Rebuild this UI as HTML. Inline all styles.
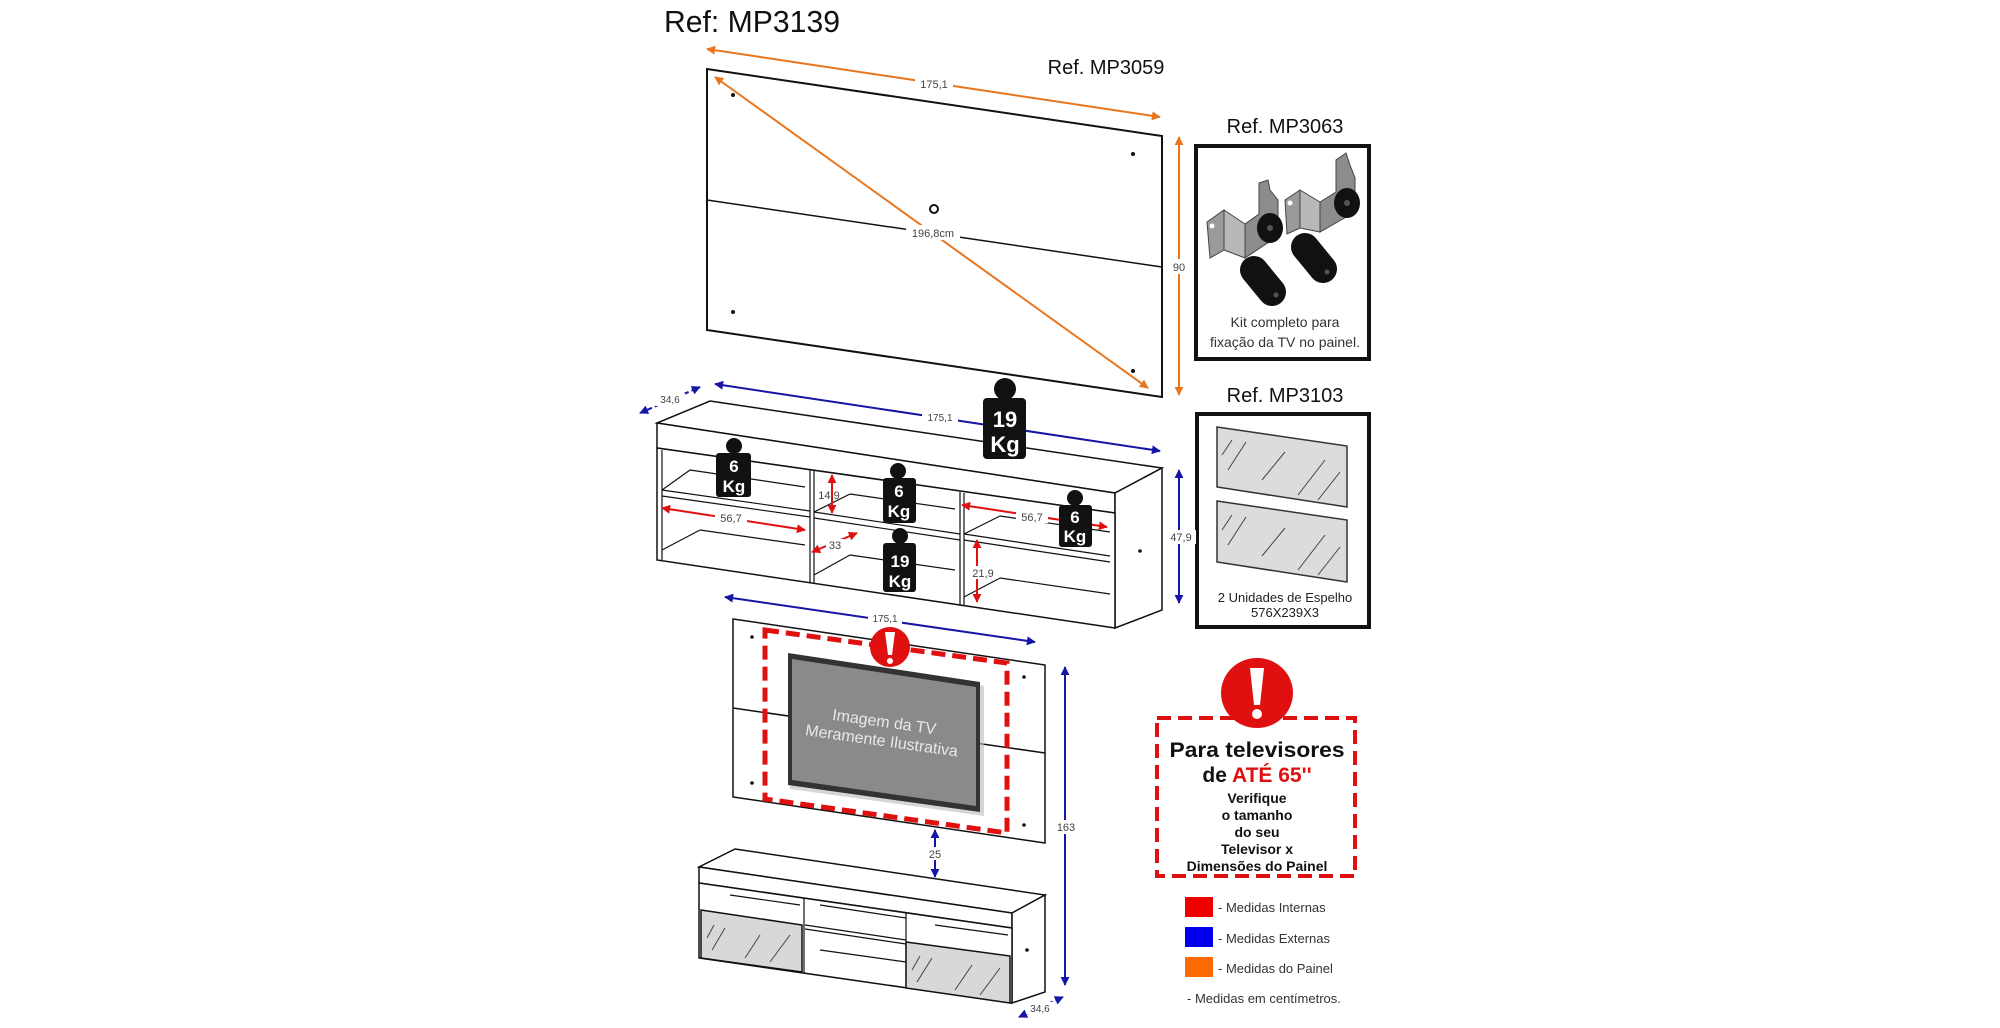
<!DOCTYPE html>
<html><head><meta charset="utf-8"><style>
html,body{margin:0;padding:0;background:#fff;}
svg{display:block;}
text{font-family:"Liberation Sans",Arial,sans-serif;}
</style></head><body>
<svg width="2000" height="1028" viewBox="0 0 2000 1028" xmlns="http://www.w3.org/2000/svg">
<defs>
<marker id="ao" viewBox="0 0 10 10" refX="9" refY="5" markerWidth="9" markerHeight="9" orient="auto-start-reverse" markerUnits="userSpaceOnUse"><path d="M0,0L10,5L0,10z" fill="#e8761e"/></marker>
<marker id="ab" viewBox="0 0 10 10" refX="9" refY="5" markerWidth="9" markerHeight="9" orient="auto-start-reverse" markerUnits="userSpaceOnUse"><path d="M0,0L10,5L0,10z" fill="#1515a8"/></marker>
<marker id="ar" viewBox="0 0 10 10" refX="9" refY="5" markerWidth="9" markerHeight="9" orient="auto-start-reverse" markerUnits="userSpaceOnUse"><path d="M0,0L10,5L0,10z" fill="#e01010"/></marker>
</defs>

<text x="664" y="32" font-size="31" fill="#111" textLength="176" lengthAdjust="spacingAndGlyphs">Ref: MP3139</text>

<!-- Panel MP3059 -->
<polygon points="707,69 1162,136 1162,397 707,330" fill="#fff" stroke="#111" stroke-width="2"/>
<line x1="707" y1="200" x2="1162" y2="267" stroke="#111" stroke-width="1.5"/>
<circle cx="733" cy="95" r="2" fill="#111"/><circle cx="1133" cy="154" r="2" fill="#111"/>
<circle cx="733" cy="312" r="2" fill="#111"/><circle cx="1133" cy="371" r="2" fill="#111"/>
<circle cx="934" cy="209" r="4" fill="none" stroke="#111" stroke-width="2"/>
<line x1="707" y1="49" x2="1160" y2="117" stroke="#e8761e" stroke-width="2" marker-start="url(#ao)" marker-end="url(#ao)"/>
<rect x="915" y="77" width="38" height="14" fill="#fff"/><text x="934" y="88" font-size="11" fill="#444" text-anchor="middle">175,1</text>
<line x1="715" y1="77" x2="1148" y2="388" stroke="#e8761e" stroke-width="2" marker-start="url(#ao)" marker-end="url(#ao)"/>
<rect x="906" y="225" width="54" height="15" fill="#fff"/><text x="933" y="237" font-size="11" fill="#444" text-anchor="middle">196,8cm</text>
<line x1="1179" y1="137" x2="1179" y2="395" stroke="#e8761e" stroke-width="2" marker-start="url(#ao)" marker-end="url(#ao)"/>
<rect x="1170" y="259" width="18" height="15" fill="#fff"/><text x="1179" y="271" font-size="11" fill="#444" text-anchor="middle">90</text>
<text x="1106" y="74" font-size="20" fill="#111" text-anchor="middle">Ref. MP3059</text>

<!-- Kit box -->
<text x="1285" y="133" font-size="20" fill="#111" text-anchor="middle">Ref. MP3063</text>
<rect x="1196" y="146" width="173" height="213" fill="#fff" stroke="#111" stroke-width="4"/>
<g stroke="#444" stroke-width="1">
<polygon points="1207,222 1224,210 1224,250 1210,258" fill="#9a9a9a"/>
<polygon points="1224,210 1245,224 1245,258 1224,250" fill="#b8b8b8"/>
<polygon points="1245,224 1259,214 1259,183 1268,180 1270,190 1278,200 1278,236 1245,258" fill="#8c8c8c"/>
<polygon points="1285,200 1300,190 1300,228 1287,234" fill="#9a9a9a"/>
<polygon points="1300,190 1320,202 1320,232 1300,228" fill="#b8b8b8"/>
<polygon points="1320,202 1336,192 1336,160 1346,153 1350,165 1355,178 1355,212 1320,232" fill="#8c8c8c"/>
</g>
<circle cx="1212" cy="226" r="2.5" fill="#fff"/><circle cx="1290" cy="203" r="2.5" fill="#fff"/>
<ellipse cx="1270" cy="228" rx="13" ry="15" fill="#111"/><ellipse cx="1347" cy="203" rx="13" ry="15" fill="#111"/>
<circle cx="1270" cy="228" r="3" fill="#555"/><circle cx="1347" cy="203" r="3" fill="#555"/>
<line x1="1254" y1="270" x2="1272" y2="292" stroke="#111" stroke-width="28" stroke-linecap="round"/>
<line x1="1305" y1="247" x2="1323" y2="269" stroke="#111" stroke-width="28" stroke-linecap="round"/>
<circle cx="1276" cy="295" r="2.5" fill="#555"/><circle cx="1327" cy="272" r="2.5" fill="#555"/>
<text x="1285" y="327" font-size="14" fill="#333" text-anchor="middle">Kit completo para</text>
<text x="1285" y="347" font-size="14" fill="#333" text-anchor="middle">fixação da TV no painel.</text>

<!-- Mirror box -->
<text x="1285" y="402" font-size="20" fill="#111" text-anchor="middle">Ref. MP3103</text>
<rect x="1197" y="414" width="172" height="213" fill="#fff" stroke="#111" stroke-width="4"/>
<polygon points="1217,427 1347,446 1347,507 1217,487" fill="#dcdcdc" stroke="#333" stroke-width="1.5"/>
<polygon points="1217,501 1347,520 1347,582 1217,562" fill="#dcdcdc" stroke="#333" stroke-width="1.5"/>
<g stroke="#444" stroke-width="1"><line x1="1222" y1="455" x2="1232" y2="440"/><line x1="1228" y1="470" x2="1246" y2="442"/><line x1="1262" y1="480" x2="1285" y2="452"/><line x1="1298" y1="495" x2="1325" y2="460"/><line x1="1318" y1="500" x2="1340" y2="472"/>
<line x1="1222" y1="530" x2="1232" y2="515"/><line x1="1228" y1="545" x2="1246" y2="517"/><line x1="1262" y1="556" x2="1285" y2="528"/><line x1="1298" y1="570" x2="1325" y2="535"/><line x1="1318" y1="575" x2="1340" y2="547"/></g>
<text x="1285" y="602" font-size="13" fill="#222" text-anchor="middle">2 Unidades de Espelho</text>
<text x="1285" y="617" font-size="13" fill="#222" text-anchor="middle">576X239X3</text>

<!-- Cabinet 1 -->
<g stroke="#111" stroke-width="1.5" fill="#fff">
<polygon points="710,401 1162,468 1115,493 657,423"/>
<polygon points="657,423 1115,493 1115,513 657,448"/>
<polygon points="1115,493 1162,468 1162,610 1115,628"/>
<polygon points="657,448 1115,513 1115,628 657,560"/>
</g>
<g stroke="#111" stroke-width="1.2" fill="none">
<line x1="662" y1="490" x2="810" y2="511"/><line x1="662" y1="496" x2="810" y2="517"/>
<line x1="814" y1="512" x2="960" y2="534"/><line x1="814" y1="518" x2="960" y2="540"/>
<line x1="964" y1="534" x2="1110" y2="556"/><line x1="964" y1="540" x2="1110" y2="562"/>
<line x1="810" y1="470" x2="810" y2="583"/><line x1="814" y1="471" x2="814" y2="584"/>
<line x1="960" y1="492" x2="960" y2="605"/><line x1="964" y1="493" x2="964" y2="606"/>
<line x1="662" y1="450" x2="662" y2="560"/>
<line x1="690" y1="470" x2="805" y2="487"/><line x1="662" y1="490" x2="690" y2="470"/>
<line x1="700" y1="530" x2="805" y2="545"/><line x1="662" y1="550" x2="700" y2="530"/>
<line x1="850" y1="494" x2="955" y2="509"/><line x1="814" y1="512" x2="850" y2="494"/>
<line x1="850" y1="555" x2="955" y2="570"/><line x1="814" y1="575" x2="850" y2="555"/>
<line x1="1000" y1="516" x2="1110" y2="532"/><line x1="964" y1="534" x2="1000" y2="516"/>
<line x1="1000" y1="578" x2="1110" y2="594"/><line x1="964" y1="597" x2="1000" y2="578"/>
</g>
<circle cx="1140" cy="551" r="1.8" fill="#111"/>
<!-- cabinet1 dims -->
<line x1="640" y1="413" x2="700" y2="387" stroke="#1515a8" stroke-width="2" stroke-dasharray="5,3" marker-start="url(#ab)" marker-end="url(#ab)"/>
<rect x="655" y="393" width="30" height="13" fill="#fff"/><text x="670" y="403" font-size="10" fill="#444" text-anchor="middle">34,6</text>
<line x1="715" y1="384" x2="1160" y2="451" stroke="#1515a8" stroke-width="2" marker-start="url(#ab)" marker-end="url(#ab)"/>
<rect x="922" y="411" width="36" height="13" fill="#fff"/><text x="940" y="421" font-size="10" fill="#444" text-anchor="middle">175,1</text>
<line x1="1179" y1="470" x2="1179" y2="603" stroke="#1515a8" stroke-width="2" marker-start="url(#ab)" marker-end="url(#ab)"/>
<rect x="1166" y="530" width="30" height="14" fill="#fff"/><text x="1181" y="541" font-size="11" fill="#444" text-anchor="middle">47,9</text>
<line x1="725" y1="597" x2="1035" y2="642" stroke="#1515a8" stroke-width="2" marker-start="url(#ab)" marker-end="url(#ab)"/>
<rect x="868" y="612" width="34" height="12" fill="#fff"/><text x="885" y="622" font-size="10" fill="#444" text-anchor="middle">175,1</text>
<g stroke="#e01010" stroke-width="2">
<line x1="662" y1="508" x2="805" y2="530" marker-start="url(#ar)" marker-end="url(#ar)"/>
<line x1="832" y1="475" x2="832" y2="513" marker-start="url(#ar)" marker-end="url(#ar)"/>
<line x1="812" y1="552" x2="857" y2="533" marker-start="url(#ar)" marker-end="url(#ar)"/>
<line x1="962" y1="505" x2="1107" y2="527" marker-start="url(#ar)" marker-end="url(#ar)"/>
<line x1="977" y1="540" x2="977" y2="602" marker-start="url(#ar)" marker-end="url(#ar)"/>
</g>
<rect x="715" y="511" width="32" height="13" fill="#fff"/><text x="731" y="522" font-size="11" fill="#444" text-anchor="middle">56,7</text>
<text x="829" y="499" font-size="11" fill="#444" text-anchor="middle">14,9</text>
<rect x="826" y="539" width="18" height="13" fill="#fff"/><text x="835" y="549" font-size="11" fill="#444" text-anchor="middle">33</text>
<rect x="1016" y="510" width="32" height="13" fill="#fff"/><text x="1032" y="521" font-size="11" fill="#444" text-anchor="middle">56,7</text>
<rect x="968" y="566" width="30" height="13" fill="#fff"/><text x="983" y="577" font-size="11" fill="#444" text-anchor="middle">21,9</text>

<!-- Weights -->
<g fill="#111">
<circle cx="1005" cy="389" r="11"/><rect x="983" y="398" width="43" height="61" rx="4"/>
<circle cx="734" cy="446" r="8"/><rect x="716" y="453" width="35" height="44" rx="3"/>
<circle cx="898" cy="471" r="8"/><rect x="883" y="478" width="33" height="45" rx="3"/>
<circle cx="1075" cy="498" r="8"/><rect x="1059" y="505" width="33" height="42" rx="3"/>
<circle cx="900" cy="536" r="8"/><rect x="883" y="543" width="33" height="49" rx="3"/>
</g>
<g fill="#fff" font-weight="bold" text-anchor="middle">
<text x="1005" y="427" font-size="22">19</text><text x="1005" y="452" font-size="22">Kg</text>
<text x="734" y="472" font-size="17">6</text><text x="734" y="492" font-size="17">Kg</text>
<text x="899" y="497" font-size="17">6</text><text x="899" y="517" font-size="17">Kg</text>
<text x="1075" y="523" font-size="17">6</text><text x="1075" y="542" font-size="17">Kg</text>
<text x="900" y="567" font-size="17">19</text><text x="900" y="587" font-size="17">Kg</text>
</g>

<!-- Panel 2 -->
<polygon points="733,619 1045,665 1045,843 733,797" fill="#fff" stroke="#111" stroke-width="1.5"/>
<line x1="733" y1="708" x2="1045" y2="753" stroke="#111" stroke-width="1.5"/>
<circle cx="752" cy="637" r="1.8" fill="#111"/><circle cx="1024" cy="677" r="1.8" fill="#111"/><circle cx="752" cy="783" r="1.8" fill="#111"/><circle cx="1024" cy="825" r="1.8" fill="#111"/>
<polygon points="790,657 984,686 984,816 790,789" fill="#bbb" opacity="0.6"/>
<polygon points="788,653 980,682 980,812 788,785" fill="#333"/>
<polygon points="792,659 976,687 976,806 792,780" fill="#8a8a8a"/>
<g transform="rotate(8 883 731)" fill="#e8e8e8" font-size="16" text-anchor="middle"><text x="883" y="727">Imagem da TV</text><text x="883" y="746">Meramente Ilustrativa</text></g>
<polygon points="765,630 1007,663 1007,833 765,799" fill="none" stroke="#e01010" stroke-width="5" stroke-dasharray="14,7"/>
<circle cx="890" cy="647" r="20" fill="#e01010"/>
<polygon points="885,632 895,632 892,655 888,655" fill="#fff"/><circle cx="890" cy="661" r="3" fill="#fff"/>
<line x1="1065" y1="667" x2="1065" y2="985" stroke="#1515a8" stroke-width="2" marker-start="url(#ab)" marker-end="url(#ab)"/>
<rect x="1055" y="820" width="22" height="14" fill="#fff"/><text x="1066" y="831" font-size="11" fill="#444" text-anchor="middle">163</text>
<line x1="935" y1="830" x2="935" y2="877" stroke="#1515a8" stroke-width="2" marker-start="url(#ab)" marker-end="url(#ab)"/>
<rect x="927" y="847" width="16" height="13" fill="#fff"/><text x="935" y="858" font-size="11" fill="#444" text-anchor="middle">25</text>

<!-- Cabinet 2 -->
<g stroke="#111" stroke-width="1.5" fill="#fff">
<polygon points="735,849 1045,895 1012,913 699,867"/>
<polygon points="699,867 1012,913 1012,928 699,883"/>
<polygon points="1012,913 1045,895 1045,992 1012,1003"/>
<polygon points="699,883 1012,928 1012,1003 699,958"/>
</g>
<g stroke="#111" stroke-width="1.2" fill="none">
<line x1="804" y1="898" x2="804" y2="973"/><line x1="906" y1="913" x2="906" y2="988"/>
<line x1="805" y1="925" x2="906" y2="940"/><line x1="805" y1="929" x2="906" y2="944"/>
<line x1="820" y1="905" x2="906" y2="918"/><line x1="820" y1="950" x2="906" y2="962"/>
<line x1="730" y1="895" x2="800" y2="905"/><line x1="935" y1="925" x2="1008" y2="935"/>
</g>
<polygon points="701,910 802,925 802,972 701,958" fill="#d8d8d8" stroke="#111" stroke-width="1.5"/>
<polygon points="906,942 1010,956 1010,1003 906,988" fill="#d8d8d8" stroke="#111" stroke-width="1.5"/>
<g stroke="#444" stroke-width="1"><line x1="707" y1="938" x2="714" y2="925"/><line x1="712" y1="950" x2="725" y2="928"/><line x1="745" y1="958" x2="760" y2="935"/><line x1="770" y1="962" x2="790" y2="935"/>
<line x1="912" y1="970" x2="920" y2="956"/><line x1="917" y1="982" x2="932" y2="958"/><line x1="955" y1="990" x2="972" y2="965"/><line x1="980" y1="995" x2="1000" y2="968"/></g>
<circle cx="1027" cy="950" r="1.8" fill="#111"/>
<line x1="1019" y1="1017" x2="1063" y2="997" stroke="#1515a8" stroke-width="2" stroke-dasharray="5,3" marker-start="url(#ab)" marker-end="url(#ab)"/>
<rect x="1026" y="1002" width="28" height="12" fill="#fff"/><text x="1040" y="1012" font-size="10" fill="#444" text-anchor="middle">34,6</text>

<!-- Warning -->
<rect x="1157" y="718" width="198" height="158" fill="#fff" stroke="#e01010" stroke-width="4" stroke-dasharray="14,7"/>
<ellipse cx="1257" cy="693" rx="36" ry="35" fill="#e01010"/>
<polygon points="1250,668 1264,668 1260,705 1254,705" fill="#fff"/><circle cx="1257" cy="714" r="5" fill="#fff"/>
<text x="1257" y="757" font-size="21" font-weight="bold" fill="#111" text-anchor="middle" textLength="175" lengthAdjust="spacingAndGlyphs">Para televisores</text>
<text x="1257" y="782" font-size="21" font-weight="bold" fill="#111" text-anchor="middle">de <tspan fill="#e01010">ATÉ 65''</tspan></text>
<g font-size="14" font-weight="bold" fill="#111" text-anchor="middle">
<text x="1257" y="803">Verifique</text><text x="1257" y="820">o tamanho</text><text x="1257" y="837">do seu</text><text x="1257" y="854">Televisor x</text><text x="1257" y="871">Dimensões do Painel</text></g>

<!-- Legend -->
<rect x="1185" y="897" width="28" height="20" fill="#ee0000"/>
<rect x="1185" y="927" width="28" height="20" fill="#0000ee"/>
<rect x="1185" y="957" width="28" height="20" fill="#ff6a00"/>
<g font-size="13" fill="#333"><text x="1218" y="912">- Medidas Internas</text><text x="1218" y="943">- Medidas Externas</text><text x="1218" y="973">- Medidas do Painel</text><text x="1187" y="1003">- Medidas em centímetros.</text></g>
</svg>
</body></html>
